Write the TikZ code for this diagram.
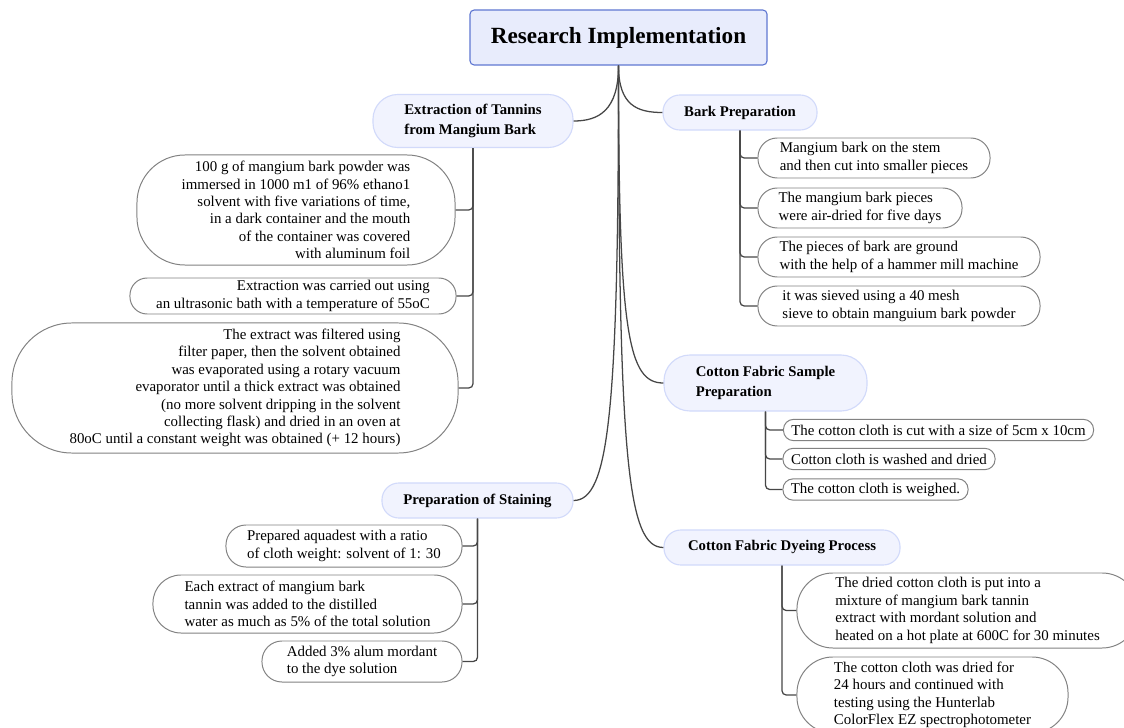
\documentclass[tikz,border=0pt]{standalone}
\usepackage{fontspec}
\setmainfont{Liberation Serif}
\usepackage{xcolor}
\definecolor{raizfundo}{RGB}{232,236,252}
\definecolor{raizborda}{RGB}{96,120,210}
\definecolor{topicofundo}{RGB}{241,243,254}
\definecolor{topicoborda}{RGB}{210,218,250}
\definecolor{folhaborda}{RGB}{130,130,130}
\definecolor{cinzaligacao}{RGB}{70,70,70}

\begin{document}
\begin{tikzpicture}[x=0.025cm, y=-0.025cm,
    raiz/.style={draw=raizborda, fill=raizfundo, line width=0.8pt, rounded corners=3pt,
        font=\fontsize{16.5}{19}\selectfont\bfseries, minimum width=7.425cm, minimum height=1.375cm},
    topico/.style={draw=topicoborda, fill=topicofundo, line width=0.8pt, rounded corners=#1,
        font=\fontsize{10.5}{14}\selectfont\bfseries, align=left, inner sep=2pt},
    folha/.style={draw=folhaborda, fill=white, line width=0.7pt, rounded corners=#1,
        font=\fontsize{10.6}{12.4}\selectfont, inner xsep=2pt, inner ysep=1pt},
    ligacao/.style={draw=cinzaligacao, line width=0.9pt},
    gancho/.style={ligacao, rounded corners=3pt}]
        \useasboundingbox (0,0) rectangle (1124,728);

        % Nó central
        \node[raiz] (root) at (618.5,37.5) {Research Implementation};

        % Tópicos principais
        \node[topico=0.62cm, minimum width=5cm, minimum height=1.325cm] (extract) at (473,121) {Extraction of Tannins\\from Mangium Bark};
        \node[topico=0.42cm, minimum width=3.85cm, minimum height=0.875cm] (barkprep) at (740,112.5) {Bark Preparation};
        \node[topico=0.65cm, minimum width=5.075cm, minimum height=1.4cm] (sample) at (765.5,383) {Cotton Fabric Sample\\Preparation};
        \node[topico=0.42cm, minimum width=4.775cm, minimum height=0.875cm] (staining) at (477.5,500.5) {Preparation of Staining};
        \node[topico=0.42cm, minimum width=5.9cm, minimum height=0.875cm] (dyeing) at (782,547.5) {Cotton Fabric Dyeing Process};

        % Ligações principais
        \draw[ligacao] (root.south) .. controls +(0,45) and +(25,0) .. (extract.east);
        \draw[ligacao] (root.south) .. controls +(0,40) and +(-25,0) .. (barkprep.west);
        \draw[ligacao] (root.south) .. controls +(0,270) and +(-35,0) .. (sample.west);
        \draw[ligacao] (root.south) .. controls +(0,350) and +(35,0) .. (staining.east);
        \draw[ligacao] (root.south) .. controls +(0,400) and +(-35,0) .. (dyeing.west);

        % Extração
        \node[folha=1.2cm, minimum width=7.95cm, minimum height=2.75cm, align=right] (ex1) at (296,210)
            {100 g of mangium bark powder was\\immersed in 1000 m1 of 96\% ethano1\\solvent with five variations of time,\\in a dark container and the mouth\\of the container was covered\\with aluminum foil};
        \node[folha=0.43cm, minimum width=8.15cm, minimum height=0.9cm, align=right] (ex2) at (293,296)
            {Extraction was carried out using\\an ultrasonic bath with a temperature of 55oC};
        \node[folha=1.5cm, minimum width=11.15cm, minimum height=3.25cm, align=right] (ex3) at (235,388)
            {The extract was filtered using\\filter paper, then the solvent obtained\\was evaporated using a rotary vacuum\\evaporator until a thick extract was obtained\\(no more solvent dripping in the solvent\\collecting flask) and dried in an oven at\\80oC until a constant weight was obtained (+ 12 hours)};
        \foreach \f in {ex1,ex2,ex3}
            \draw[gancho] (extract.south) |- (\f.east);

        % Preparação da casca
        \node[folha=0.48cm, minimum width=5.8cm, minimum height=1cm, align=left] (bk1) at (874,158)
            {Mangium bark on the stem\\and then cut into smaller pieces};
        \node[folha=0.48cm, minimum width=5.1cm, minimum height=1cm, align=left] (bk2) at (860,208)
            {The mangium bark pieces\\were air-dried for five days};
        \node[folha=0.48cm, minimum width=7.05cm, minimum height=1cm, align=left] (bk3) at (899,257)
            {The pieces of bark are ground\\with the help of a hammer mill machine};
        \node[folha=0.48cm, minimum width=7.05cm, minimum height=1cm, align=left] (bk4) at (899,306)
            {it was sieved using a 40 mesh\\sieve to obtain manguium bark powder};
        \foreach \f in {bk1,bk2,bk3,bk4}
            \draw[gancho] (barkprep.south) |- (\f.west);

        % Amostra de tecido
        \node[folha=0.25cm, minimum width=7.75cm, minimum height=0.53cm] (sp1) at (938.5,430) {The cotton cloth is cut with a size of 5cm x 10cm};
        \node[folha=0.25cm, minimum width=5.3cm, minimum height=0.53cm] (sp2) at (889,459) {Cotton cloth is washed and dried};
        \node[folha=0.25cm, minimum width=4.625cm, minimum height=0.53cm] (sp3) at (875.5,489.5) {The cotton cloth is weighed.};
        \foreach \f in {sp1,sp2,sp3}
            \draw[gancho] (sample.south) |- (\f.west);

        % Preparação do tingimento
        \node[folha=0.5cm, minimum width=5.9cm, minimum height=1.05cm, align=left] (st1) at (344,546)
            {Prepared aquadest with a ratio\\of cloth weight: solvent of 1: 30};
        \node[folha=0.7cm, minimum width=7.725cm, minimum height=1.45cm, align=left] (st2) at (307.5,604)
            {Each extract of mangium bark\\tannin was added to the distilled\\water as much as 5\% of the total solution};
        \node[folha=0.5cm, minimum width=5cm, minimum height=1.025cm, align=left] (st3) at (362,661.5)
            {Added 3\% alum mordant\\to the dye solution};
        \foreach \f in {st1,st2,st3}
            \draw[gancho] (staining.south) |- (\f.east);

        % Tingimento
        \node[folha=0.9cm, minimum width=8.525cm, minimum height=1.875cm, align=left] (dy1) at (967.5,610.5)
            {The dried cotton cloth is put into a\\mixture of mangium bark tannin\\extract with mordant solution and\\heated on a hot plate at 600C for 30 minutes};
        \node[folha=0.9cm, minimum width=6.775cm, minimum height=1.9cm, align=left] (dy2) at (932.5,695)
            {The cotton cloth was dried for\\24 hours and continued with\\testing using the Hunterlab\\ColorFlex EZ spectrophotometer};
        \foreach \f in {dy1,dy2}
            \draw[gancho] (dyeing.south) |- (\f.west);
    \end{tikzpicture}
\end{document}
